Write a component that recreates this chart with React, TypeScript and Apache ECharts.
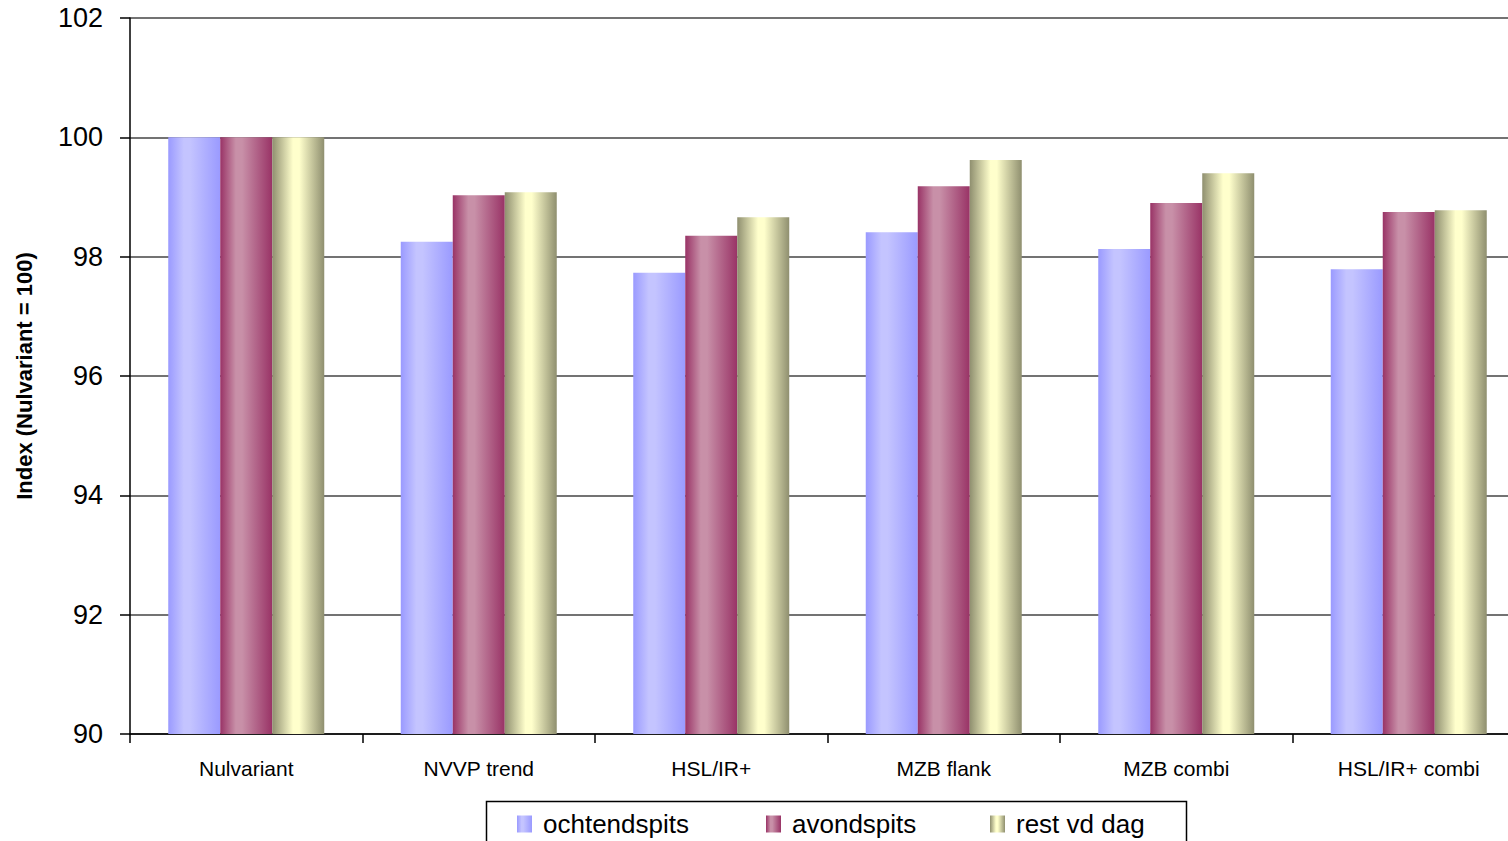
import React, { useEffect, useRef } from "react";
import * as echarts from "echarts";

const categories = ["Nulvariant", "NVVP trend", "HSL/IR+", "MZB flank", "MZB combi", "HSL/IR+ combi"];
const seriesNames = ["ochtendspits", "avondspits", "rest vd dag"];
const ochtendspits = [100, 98.25, 97.73, 98.41, 98.13, 97.79];
const avondspits = [100, 99.03, 98.35, 99.18, 98.9, 98.75];
const restVdDag = [100, 99.08, 98.66, 99.62, 99.4, 98.78];
const yTicks = { min: 90, max: 102, interval: 2 };

const FONT = "'Liberation Sans', Arial, sans-serif";
const legendLefts = [517, 766, 990];

const cylinder = (edge: string, mid: string, peak = 0.4) =>
  new echarts.graphic.LinearGradient(0, 0, 1, 0, [
    { offset: 0, color: edge },
    { offset: peak, color: mid },
    { offset: peak + 0.12, color: mid },
    { offset: 1, color: edge },
  ]);

export default function App() {
  const ref = useRef<HTMLDivElement>(null);

  useEffect(() => {
    if (!ref.current) return;
    const chart = echarts.init(ref.current, undefined, { renderer: "svg" });
    const fills = [
      cylinder("#9a9aff", "#c4c4ff", 0.3),
      cylinder("#993366", "#c890a8", 0.3),
      cylinder("#8f8f6f", "#ffffcc", 0.4),
    ];
    const values = [ochtendspits, avondspits, restVdDag];

    chart.setOption({
      animation: false,
      textStyle: { fontFamily: FONT },
      // the plot runs a little past the visible right edge
      grid: { left: 130, top: 18, bottom: 107, right: 0, containLabel: false },
      legend: seriesNames.map((name, i) => ({
        left: legendLefts[i],
        top: 811,
        padding: 0,
        itemWidth: 15,
        itemHeight: 17,
        icon: "rect",
        textStyle: { fontSize: 26, color: "#000", fontFamily: FONT, padding: [0, 0, 0, 6] },
        data: [name],
      })),
      graphic: [
        {
          type: "rect",
          left: 484,
          top: 799,
          shape: { width: 700, height: 60 },
          style: { fill: "none", stroke: "#000", lineWidth: 1.5 },
          silent: true,
        },
      ],
      xAxis: {
        type: "category",
        data: categories,
        axisLine: { lineStyle: { color: "#000", width: 1.5 } },
        axisTick: { show: true, length: 9, lineStyle: { color: "#000", width: 1.5 } },
        axisLabel: { fontSize: 21, color: "#000", margin: 24, fontFamily: FONT },
      },
      yAxis: {
        type: "value",
        min: yTicks.min,
        max: yTicks.max,
        interval: yTicks.interval,
        name: "Index (Nulvariant = 100)",
        nameLocation: "middle",
        nameGap: 95,
        nameTextStyle: { fontSize: 22, fontWeight: "bold", color: "#000", fontFamily: FONT },
        axisLine: { show: true, lineStyle: { color: "#000", width: 1.5 } },
        axisTick: { show: true, length: 10, lineStyle: { color: "#000", width: 1.5 } },
        axisLabel: { fontSize: 27, color: "#000", margin: 27, fontFamily: FONT },
        splitLine: { show: true, lineStyle: { color: "#444", width: 1.5 } },
      },
      series: seriesNames.map((name, i) => ({
        name,
        type: "bar",
        data: values[i],
        barWidth: 52,
        barGap: "0%",
        itemStyle: { color: fills[i] },
      })),
    });

    return () => chart.dispose();
  }, []);

  return (
    <div style={{ width: 1508, height: 841, position: "absolute", left: 0, top: 0, overflow: "hidden" }}>
      <div ref={ref} style={{ width: 1525, height: 841 }} />
    </div>
  );
}
